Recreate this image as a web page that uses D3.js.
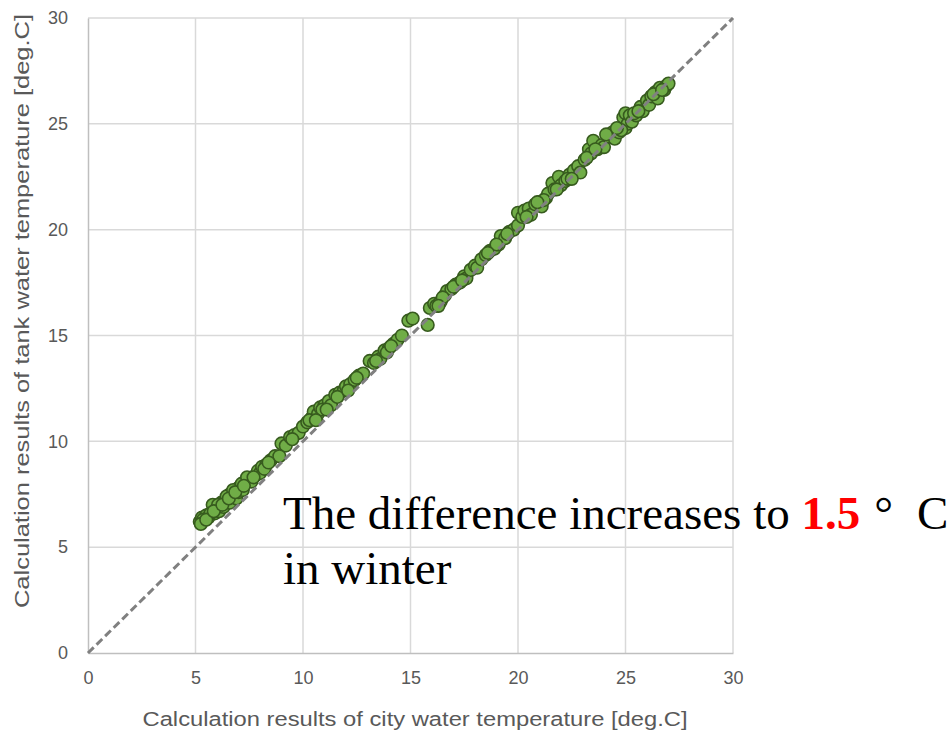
<!DOCTYPE html>
<html>
<head>
<meta charset="utf-8">
<script src="https://cdn.jsdelivr.net/npm/d3@7"></script>
<style>
  body { margin: 0; background: #fff; }
  svg { display: block; }
</style>
</head>
<body>
<script>
// city water temperature (x) vs tank water temperature (y)
var cityTemp = [5.2, 5.3, 5.4, 5.5, 5.6, 5.8, 5.9, 6.0, 6.1, 6.2, 6.3, 6.4, 6.5, 6.6, 6.6, 6.7, 6.8, 6.9, 7.0, 7.0,
  7.1, 7.2, 7.3, 7.5, 7.6, 7.8, 7.9, 8.0, 8.1, 8.3, 8.5, 8.7, 9.0, 9.2, 9.4, 9.6, 9.8, 10.0, 10.2, 10.4,
  10.5, 10.7, 10.8, 11.0, 11.2, 11.3, 11.5, 11.7, 11.9, 12.0, 12.2, 12.4, 12.6, 12.8, 13.1, 13.3, 13.5, 13.6, 13.8, 14.0,
  14.2, 14.4, 14.6, 14.9, 15.1, 15.8, 15.9, 16.1, 16.2, 16.4, 16.6, 16.7, 16.9, 17.1, 17.3, 17.5, 17.6, 17.8, 18.0, 18.1,
  18.3, 18.5, 18.7, 18.9, 19.1, 19.2, 19.4, 19.6, 19.8, 20.0, 20.0, 20.2, 20.3, 20.5, 20.6, 20.8, 21.0, 21.1, 21.3, 21.4,
  21.6, 21.7, 21.9, 22.0, 22.2, 22.4, 22.6, 22.8, 22.9, 23.1, 23.3, 23.4, 23.5, 23.7, 23.9, 24.0, 24.2, 24.4, 24.5, 24.7,
  24.9, 25.0, 25.0, 25.1, 25.2, 25.3, 25.5, 25.7, 25.8, 26.0, 26.1, 26.2, 26.4, 26.5, 26.6, 26.8, 26.9, 27.0,
  5.35, 5.7, 6.05, 6.45, 6.75, 7.15, 7.4, 8.2, 8.9, 9.5, 10.3, 10.9, 11.6, 12.5, 13.9, 16.5, 17.0, 19.0, 21.2, 22.3, 24.8, 25.4, 26.3,
  5.25, 5.5, 5.85, 6.25, 6.55, 6.85, 7.25, 7.7, 8.4, 10.6, 11.1, 12.1, 13.4, 14.1, 16.3, 17.4, 18.6, 19.5, 20.4, 20.9, 21.8, 22.5, 23.2, 23.6, 24.1, 24.6, 25.6, 26.7];
var tankTemp = [6.2, 6.4, 6.3, 6.5, 6.4, 7.0, 6.6, 6.8, 6.7, 7.1, 6.9, 7.2, 7.3, 7.5, 7.1, 7.4, 7.6, 7.3, 7.8, 7.6,
  7.9, 7.7, 8.0, 8.2, 8.1, 8.4, 8.6, 8.5, 8.8, 8.9, 9.1, 9.3, 9.9, 9.8, 10.2, 10.3, 10.4, 10.7, 10.9, 11.1,
  11.4, 11.3, 11.6, 11.7, 11.9, 11.7, 12.2, 12.3, 12.4, 12.6, 12.7, 12.9, 13.1, 13.2, 13.8, 13.7, 14.0, 13.9, 14.3, 14.4,
  14.6, 14.8, 15.0, 15.7, 15.8, 15.5, 16.3, 16.5, 16.4, 16.6, 16.9, 17.1, 17.2, 17.4, 17.5, 17.8, 17.7, 18.1, 18.3, 18.2,
  18.6, 18.8, 19.0, 19.1, 19.3, 19.7, 19.6, 19.9, 20.0, 20.2, 20.8, 20.6, 20.9, 21.0, 20.7, 21.2, 21.3, 21.1, 21.5, 21.7,
  22.2, 21.9, 22.5, 22.1, 22.3, 22.6, 22.8, 23.0, 22.7, 23.3, 23.8, 23.6, 24.2, 23.8, 24.0, 23.9, 24.4, 24.6, 24.3, 24.6,
  25.3, 25.5, 24.8, 25.0, 25.4, 25.1, 25.4, 25.8, 25.6, 26.1, 25.9, 26.3, 26.5, 26.2, 26.7, 26.6, 26.8, 26.9,
  6.3, 6.6, 7.0, 7.4, 7.7, 8.0, 8.3, 8.7, 9.3, 10.1, 11.0, 11.5, 12.1, 13.0, 14.2, 16.8, 17.3, 19.3, 21.4, 22.4, 24.7, 25.5, 26.4,
  6.1, 6.3, 6.7, 7.0, 7.3, 7.6, 7.9, 8.3, 9.0, 11.0, 11.5, 12.4, 13.8, 14.5, 16.4, 17.6, 18.9, 19.8, 20.6, 21.3, 21.9, 22.4, 23.4, 23.8, 24.5, 24.8, 25.6, 26.6];

var xTicks = [0, 5, 10, 15, 20, 25, 30];
var yTicks = [0, 5, 10, 15, 20, 25, 30];

var W = 951, H = 732;
var margin = {left: 88, top: 18, right: 218, bottom: 79};

var svg = d3.select("body").append("svg")
    .attr("width", W)
    .attr("height", H);

var x = d3.scaleLinear().domain([0, 30]).range([margin.left, W - margin.right]);
var y = d3.scaleLinear().domain([0, 30]).range([H - margin.bottom, margin.top]);

// grid
svg.append("g").selectAll("line")
    .data(xTicks.slice(1))
    .enter().append("line")
    .attr("x1", d => x(d)).attr("x2", d => x(d))
    .attr("y1", y(0)).attr("y2", y(30))
    .attr("stroke", "#d9d9d9").attr("stroke-width", 1.5);
svg.append("g").selectAll("line")
    .data(yTicks.slice(1))
    .enter().append("line")
    .attr("x1", x(0)).attr("x2", x(30))
    .attr("y1", d => y(d)).attr("y2", d => y(d))
    .attr("stroke", "#d9d9d9").attr("stroke-width", 1.5);

// axes (no tick marks, Excel-like)
var xAxis = svg.append("g")
    .attr("transform", "translate(0," + y(0) + ")")
    .call(d3.axisBottom(x).tickValues(xTicks).tickSize(0).tickPadding(18));
var yAxis = svg.append("g")
    .attr("transform", "translate(" + x(0) + ",0)")
    .call(d3.axisLeft(y).tickValues(yTicks).tickSize(0).tickPadding(20));
[xAxis, yAxis].forEach(function(a) {
    a.select(".domain").attr("stroke", "#bfbfbf").attr("stroke-width", 1.5);
    a.selectAll("text")
        .attr("fill", "#595959")
        .style("font-family", "'Liberation Sans', Arial, sans-serif")
        .style("font-size", "18px");
});

// points
svg.append("g").selectAll("circle")
    .data(cityTemp.map((d, i) => [d, tankTemp[i]]))
    .enter().append("circle")
    .attr("cx", d => x(d[0]))
    .attr("cy", d => y(d[1]))
    .attr("r", 6.3)
    .attr("fill", "#70ad47")
    .attr("stroke", "#375b1e")
    .attr("stroke-width", 1.6);

// 1:1 line, drawn over the points
svg.append("line")
    .attr("x1", x(0)).attr("y1", y(0))
    .attr("x2", x(30)).attr("y2", y(30))
    .attr("stroke", "#808080")
    .attr("stroke-width", 3)
    .attr("stroke-dasharray", "8,4");

// axis titles
svg.append("text")
    .attr("x", 415).attr("y", 726)
    .attr("text-anchor", "middle")
    .attr("fill", "#595959")
    .attr("textLength", 545)
    .attr("lengthAdjust", "spacingAndGlyphs")
    .style("font-family", "'Liberation Sans', Arial, sans-serif")
    .style("font-size", "20px")
    .text("Calculation results of city water temperature  [deg.C]");

svg.append("text")
    .attr("transform", "translate(29,311) rotate(-90)")
    .attr("text-anchor", "middle")
    .attr("fill", "#595959")
    .attr("textLength", 594)
    .attr("lengthAdjust", "spacingAndGlyphs")
    .style("font-family", "'Liberation Sans', Arial, sans-serif")
    .style("font-size", "20px")
    .text("Calculation results of tank water temperature  [deg.C]");

// annotation
var note = svg.append("text")
    .attr("x", 283).attr("y", 529)
    .attr("fill", "#000")
    .style("font-family", "'Liberation Serif', 'Times New Roman', serif")
    .style("font-size", "47px");
note.append("tspan").text("The difference increases to ");
note.append("tspan").attr("fill", "#ff0000").style("font-weight", "bold").text("1.5");
note.append("tspan").attr("dx", 14).text("°");
note.append("tspan").attr("dx", 24).text("C");

svg.append("text")
    .attr("x", 283).attr("y", 584)
    .style("font-family", "'Liberation Serif', 'Times New Roman', serif")
    .style("font-size", "47px")
    .text("in winter");
</script>
</body>
</html>
